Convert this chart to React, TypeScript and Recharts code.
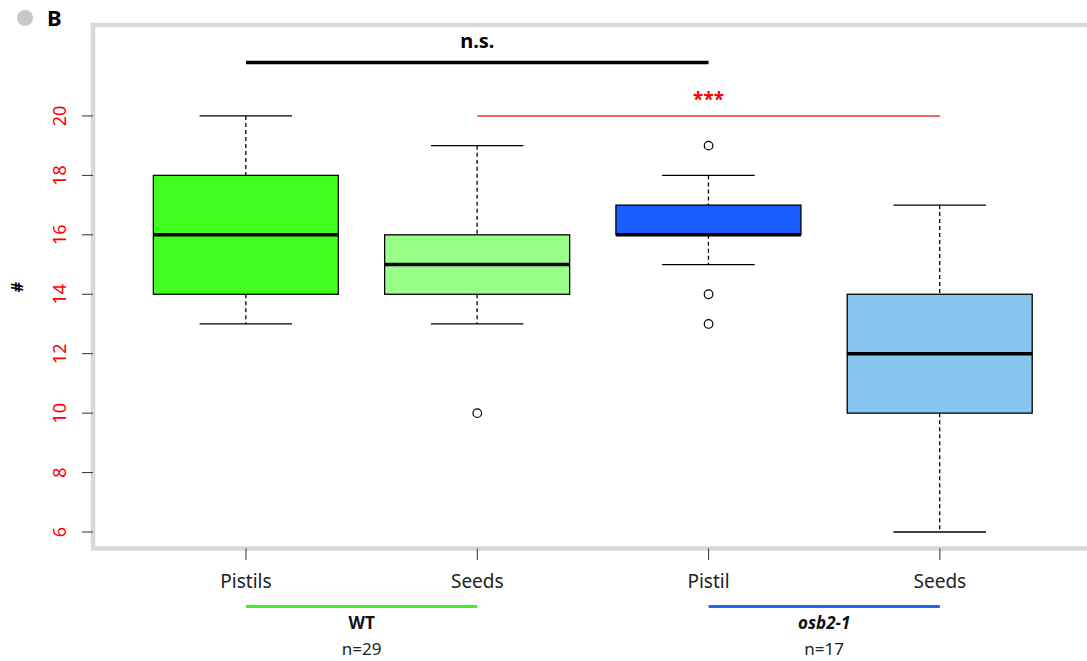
import React from 'react';
import {
  ComposedChart, Bar, Scatter, XAxis, YAxis, ReferenceLine, ReferenceArea,
} from 'recharts';

// ---- data ----
const categories = ['Pistils', 'Seeds', 'Pistil', 'Seeds'];
const positions = [1, 2, 3, 4];
const whiskerLow = [13, 13, 15, 6];
const q1Values = [14, 14, 16, 10];
const medianValues = [16, 15, 16, 12];
const q3Values = [18, 16, 17, 14];
const whiskerHigh = [20, 19, 18, 17];
const boxColors = ['#40ff1e', '#9aff88', '#1a5cff', '#88c6f0'];
const outlierX = [2, 3, 3, 3];
const outlierY = [10, 19, 14, 13];
const yTicks = [6, 8, 10, 12, 14, 16, 18, 20];
const groupNames = ['WT', 'osb2-1'];
const groupN = ['n=29', 'n=17'];
const groupFrom = [1, 3];
const groupTo = [2, 4];
const groupColors = ['#44ee22', '#2266ee'];
const nsLevel = 21.8;
const starLevel = 20;
const groupLineLevel = 3.49;

const X_DOMAIN: [number, number] = [0.3385, 4.6535];
const Y_DOMAIN: [number, number] = [5.445, 23.06];

const boxData = positions.map((p, i) => ({
  x: p,
  range: [whiskerLow[i], whiskerHigh[i]],
  min: whiskerLow[i],
  q1: q1Values[i],
  median: medianValues[i],
  q3: q3Values[i],
  max: whiskerHigh[i],
  color: boxColors[i],
}));

const outlierData = outlierX.map((x, i) => ({ x, y: outlierY[i] }));

const BoxShape = (props: any) => {
  const { x, y, width, height } = props;
  const p = props.payload ?? props;
  const top = Math.min(y, y + height);
  const h = Math.abs(height);
  const k = h / (p.max - p.min);
  const py = (v: number) => top + (p.max - v) * k;
  const cx = x + width / 2;
  const cap = width / 4;
  return (
    <g>
      <line x1={cx} x2={cx} y1={py(p.max)} y2={py(p.q3)} stroke="#000" strokeWidth={1.3} strokeDasharray="4 3" />
      <line x1={cx} x2={cx} y1={py(p.q1)} y2={py(p.min)} stroke="#000" strokeWidth={1.3} strokeDasharray="4 3" />
      <line x1={cx - cap} x2={cx + cap} y1={py(p.max)} y2={py(p.max)} stroke="#000" strokeWidth={1.3} />
      <line x1={cx - cap} x2={cx + cap} y1={py(p.min)} y2={py(p.min)} stroke="#000" strokeWidth={1.3} />
      <rect x={x} y={py(p.q3)} width={width} height={py(p.q1) - py(p.q3)} fill={p.color} stroke="#000" strokeWidth={1.3} />
      <line x1={x} x2={x + width} y1={py(p.median)} y2={py(p.median)} stroke="#000" strokeWidth={3.5} />
    </g>
  );
};

const OutlierShape = (props: any) => (
  <circle cx={props.cx} cy={props.cy} r={4.3} fill="#fff" stroke="#000" strokeWidth={1.2} />
);

const XTick = (props: any) => {
  const { x, y, payload } = props;
  return (
    <text x={x} y={y + 26} textAnchor="middle" fontSize={19} fill="#222" fontFamily="'Noto Sans', sans-serif">
      {categories[Math.round(payload.value) - 1]}
    </text>
  );
};

const YTick = (props: any) => {
  const { x, y, payload } = props;
  const bx = x - 13.5;
  return (
    <text x={bx} y={y} transform={`rotate(-90, ${bx}, ${y})`} textAnchor="middle" fontSize={18} fill="#ff0000" fontFamily="'Noto Sans', sans-serif">
      {payload.value}
    </text>
  );
};

const makeGroupLabel = (i: number) => (props: any) => {
  const vb = props.viewBox || {};
  const cx = vb.x + vb.width / 2;
  const y = vb.y;
  return (
    <g fontFamily="'Noto Sans', sans-serif">
      <text x={cx} y={y + 22} textAnchor="middle" fontSize={17} fontWeight={700} fontStyle={i === 1 ? 'italic' : 'normal'} fill="#111">
        {groupNames[i]}
      </text>
      <text x={cx} y={y + 48} textAnchor="middle" fontSize={17} fill="#222">
        {groupN[i]}
      </text>
    </g>
  );
};

export default function App() {
  return (
    <div style={{ position: 'absolute', left: 0, top: 0, width: 1087, height: 661, overflow: 'hidden', background: '#fff' }}>
      <ComposedChart
        width={1095}
        height={661}
        data={boxData}
        margin={{ top: 25, right: 4, left: 0, bottom: 52.5 }}
        style={{ fontFamily: "'Noto Sans', sans-serif" }}
      >
        <XAxis
          dataKey="x"
          type="number"
          domain={X_DOMAIN}
          allowDataOverflow
          ticks={positions}
          interval={0}
          height={60}
          axisLine={false}
          tickSize={11.5}
          tickLine={{ stroke: '#333', strokeWidth: 1 }}
          tick={<XTick />}
        />
        <YAxis
          type="number"
          domain={Y_DOMAIN}
          allowDataOverflow
          ticks={yTicks}
          interval={0}
          width={93}
          axisLine={false}
          tickSize={11}
          tickLine={{ stroke: '#333', strokeWidth: 1 }}
          tick={<YTick />}
        />
        <ReferenceArea
          x1={X_DOMAIN[0]}
          x2={X_DOMAIN[1]}
          y1={Y_DOMAIN[0]}
          y2={Y_DOMAIN[1]}
          fill="none"
          fillOpacity={0}
          stroke="#d3dcda"
          strokeWidth={4.5}
          ifOverflow="visible"
        />
        <Bar dataKey="range" barSize={185} shape={<BoxShape />} isAnimationActive={false} />
        <Scatter data={outlierData} dataKey="y" shape={<OutlierShape />} isAnimationActive={false} />
        <ReferenceLine
          segment={[{ x: 1, y: nsLevel }, { x: 3, y: nsLevel }]}
          stroke="#000"
          strokeWidth={3.5}
          ifOverflow="visible"
          label={{ value: 'n.s.', position: 'top', offset: 14, fill: '#000', fontSize: 20, fontWeight: 700 }}
        />
        <ReferenceLine
          segment={[{ x: 2, y: starLevel }, { x: 4, y: starLevel }]}
          stroke="#ee3333"
          strokeWidth={1.6}
          ifOverflow="visible"
          label={{ value: '***', position: 'top', offset: 10, fill: '#ff0000', fontSize: 19, fontWeight: 700 }}
        />
        {groupNames.map((g, i) => (
          <ReferenceLine
            key={g}
            segment={[{ x: groupFrom[i], y: groupLineLevel }, { x: groupTo[i], y: groupLineLevel }]}
            stroke={groupColors[i]}
            strokeWidth={3}
            ifOverflow="visible"
            label={makeGroupLabel(i)}
          />
        ))}
      </ComposedChart>
      <svg width={1087} height={661} style={{ position: 'absolute', left: 0, top: 0, pointerEvents: 'none' }}>
        <circle cx={25} cy={18} r={8} fill="#c8c8c8" />
        <text x={47} y={26} fontSize={22} fontWeight={700} fill="#000" fontFamily="'Noto Sans', sans-serif">B</text>
        <text x={23} y={287} transform="rotate(-90, 23, 287)" textAnchor="middle" fontSize={16} fontWeight={700} fill="#000" fontFamily="'Noto Sans', sans-serif">#</text>
      </svg>
    </div>
  );
}
